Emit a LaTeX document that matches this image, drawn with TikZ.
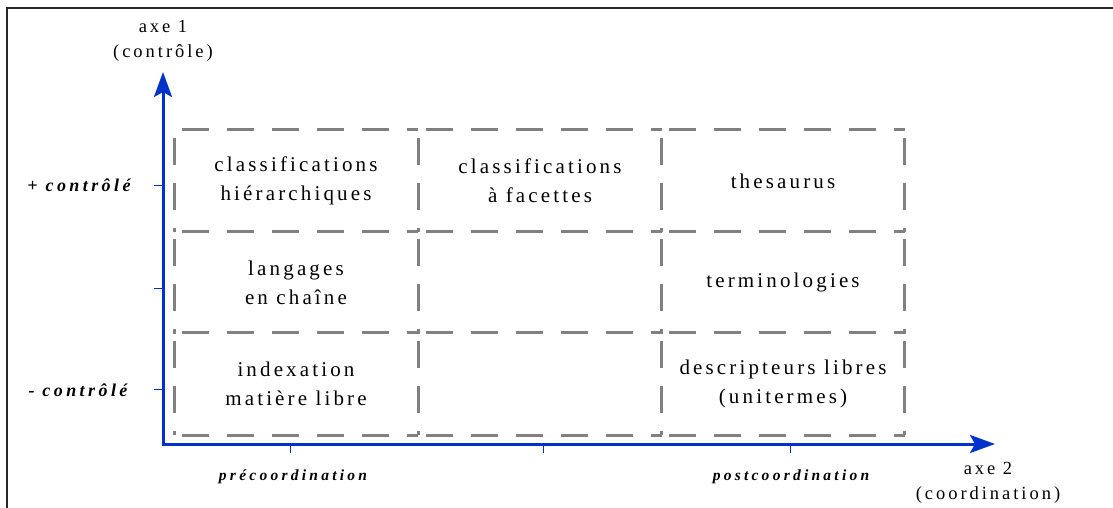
\documentclass[tikz,border=0pt]{standalone}
\usepackage{fontspec}
\setmainfont{Liberation Serif}
\newfontfamily\cellfont[LetterSpace=15]{Liberation Serif}
\newfontfamily\labfont[LetterSpace=16]{Liberation Serif}
\newfontfamily\ylabfont[LetterSpace=19]{Liberation Serif}
\newfontfamily\xlabfont[LetterSpace=21]{Liberation Serif}
\usetikzlibrary{arrows.meta}
\definecolor{axisblue}{RGB}{0,51,204}
\definecolor{boxgray}{RGB}{128,128,128}
\definecolor{framecol}{RGB}{40,40,40}
\tikzset{
  cell/.style={minimum width=243pt, minimum height=102pt, inner sep=0pt, align=center,
    font=\cellfont\fontsize{21}{29}\selectfont},
  dashline/.style={draw=boxgray, line width=3pt, dash pattern=on 27pt off 18pt, dash phase=37pt},
  axis/.style={draw=axisblue, line width=3pt, line join=miter,
    {Stealth[length=25pt,width=18pt,inset=5pt]}-{Stealth[length=25pt,width=18pt,inset=5pt]}},
  tick/.style={draw=axisblue, line width=1pt},
  axlab/.style={align=center, inner sep=0pt, font=\labfont\fontsize{18.5}{25}\selectfont},
  ylab/.style={inner sep=0pt, font=\ylabfont\fontsize{18}{20}\selectfont\bfseries\itshape},
  xlab/.style={inner sep=0pt, font=\xlabfont\fontsize{15.5}{17}\selectfont\bfseries\itshape},
  frame/.style={draw=framecol, line width=2pt}
}
\begin{document}
\begin{tikzpicture}[x=1pt,y=-1pt]
\useasboundingbox (0,0) rectangle (1113,508);
% frame
\coordinate (FL) at (7,508);
\coordinate (FC) at (7,8);
\coordinate (FR) at (1113,8);
\draw[frame] (FL) -- (FC) -- (FR);
% cells
\node[cell] (c11) at (296,181) {classifications\\hiérarchiques};
\node[cell] (c12) at (540,181) {classifications\\à facettes};
\node[cell] (c13) at (783,181) {thesaurus};
\node[cell] (c21) at (296,282.5) {langages\\en chaîne};
\node[cell] (c22) at (540,282.5) {};
\node[cell] (c23) at (783,282.5) {terminologies};
\node[cell] (c31) at (296,384) {indexation\\matière libre};
\node[cell] (c32) at (540,384) {};
\node[cell] (c33) at (783,384) {descripteurs libres\\(unitermes)};
% dashed grid: top and left edge of each cell, plus outer right and bottom
\foreach \c in {c11,c12,c13,c21,c22,c23,c31,c32,c33}{
  \draw[dashline] (\c.north west) -- (\c.north east);
  \draw[dashline] (\c.north west) -- (\c.south west);
}
\foreach \c in {c13,c23,c33}{
  \draw[dashline] (\c.north east) -- (\c.south east);
}
\foreach \c in {c31,c32,c33}{
  \draw[dashline] (\c.south west) -- (\c.south east);
}
% axes
\coordinate (O) at (163,444);
\coordinate (Ytip) at (163,72);
\coordinate (Xtip) at (995,444);
\draw[axis] (Ytip) -- (O) -- (Xtip);
% y ticks
\coordinate (yt1a) at (154,185); \coordinate (yt1b) at (163,185);
\coordinate (yt2a) at (154,288); \coordinate (yt2b) at (163,288);
\coordinate (yt3a) at (154,389); \coordinate (yt3b) at (163,389);
\draw[tick] (yt1a) -- (yt1b);
\draw[tick] (yt2a) -- (yt2b);
\draw[tick] (yt3a) -- (yt3b);
% x ticks
\coordinate (xt1a) at (290,444); \coordinate (xt1b) at (290,453);
\coordinate (xt2a) at (543,444); \coordinate (xt2b) at (543,453);
\coordinate (xt3a) at (790,444); \coordinate (xt3b) at (790,453);
\draw[tick] (xt1a) -- (xt1b);
\draw[tick] (xt2a) -- (xt2b);
\draw[tick] (xt3a) -- (xt3b);
% labels
\node[axlab] (ax1) at (163,41) {axe 1\\(contrôle)};
\node[axlab] (ax2) at (988,483) {axe 2\\(coordination)};
\node[ylab] (plus) at (79,185) {+ contrôlé};
\node[ylab] (minus) at (78,390) {- contrôlé};
\node[xlab] (pre) at (293,477) {précoordination};
\node[xlab] (post) at (791,477) {postcoordination};
\end{tikzpicture}
\end{document}
